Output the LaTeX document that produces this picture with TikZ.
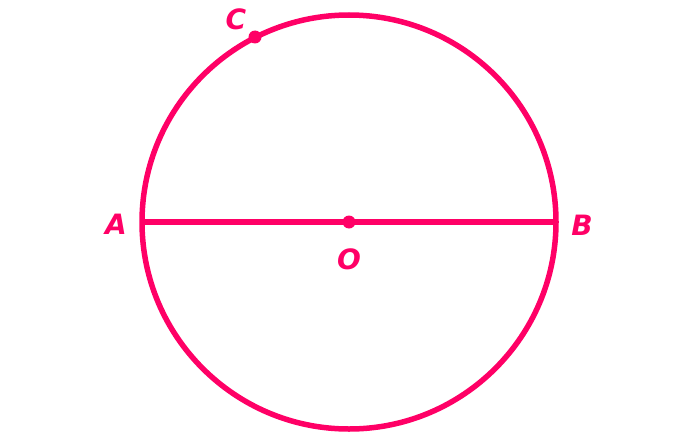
\documentclass[tikz,border=0pt]{standalone}
\usepackage{fontspec}
\setmainfont{DejaVu Sans}
\definecolor{hot}{HTML}{FF0066}
\begin{document}
\begin{tikzpicture}[x=1pt,y=-1pt,
  stroke/.style={draw=hot,line width=5.5pt},
  dot/.style={circle,fill=hot,inner sep=0pt,minimum size=13pt},
  lbl/.style={text=hot,font=\fontsize{28}{28}\selectfont\bfseries\itshape,inner sep=0pt}]
\useasboundingbox (0,0) rectangle (700,436);
\coordinate (O) at (349,222);
\draw[stroke] (O) circle (207);
\coordinate (A) at (142,222);
\coordinate (B) at (556,222);
\draw[stroke] (A) -- (B);
\node[dot] (Od) at (O) {};
\node[dot] (Cd) at (255,37) {};
\node[lbl] (lA) at (116,224) {A};
\node[lbl] (lB) at (582,225) {B};
\node[lbl] (lC) at (236,19) {C};
\node[lbl] (lO) at (349,259) {O};
\end{tikzpicture}
\end{document}
